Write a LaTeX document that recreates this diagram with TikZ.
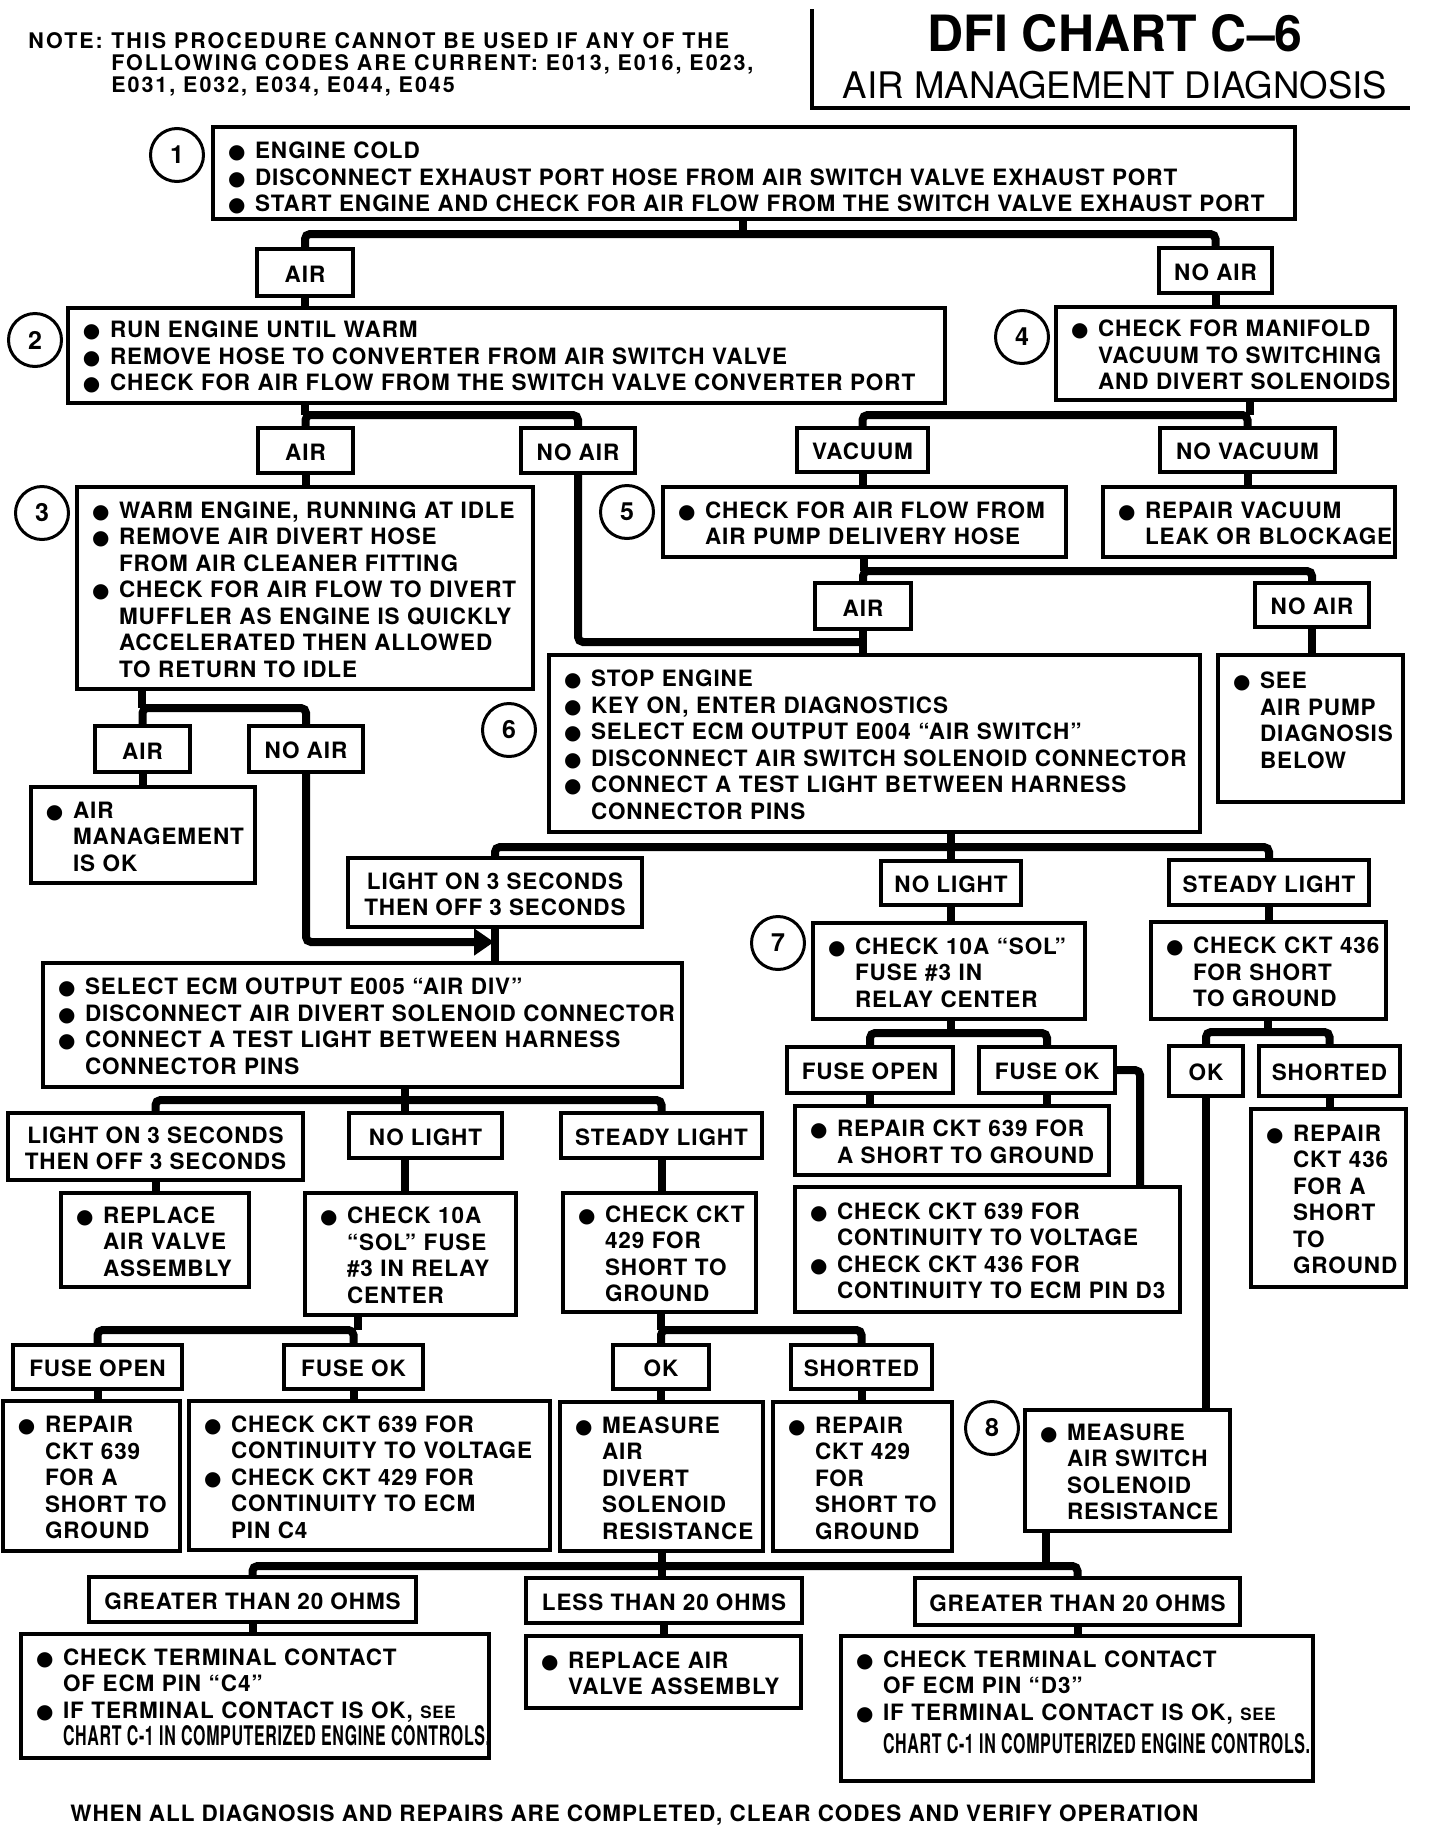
\documentclass[tikz,border=0pt]{standalone}
\usepackage{fontspec}
\usepackage{graphicx}
\setmainfont{TeX Gyre Heros}
\newfontfamily\espaciada{TeX Gyre Heros}[LetterSpace=4]
\newfontfamily\notafont{TeX Gyre Heros}[LetterSpace=9]
\newfontfamily\simbolos{DejaVu Sans}
\usetikzlibrary{arrows.meta}

\newcommand{\cuerpo}{\espaciada\bfseries\fontsize{11.25}{13.25}\selectfont}
\newcommand{\bala}{{\simbolos\fontsize{10}{10}\selectfont ●}}
\newcommand{\pto}[1]{\mbox{\makebox[13.5pt][l]{\bala}#1}}
\newcommand{\sig}[1]{\mbox{\hspace{13.5pt}#1}}
\newcommand{\cond}[1]{\scalebox{0.71}[1.2]{#1}}
\newcommand{\chico}[1]{{\fontsize{8.5}{8.5}\selectfont #1}}

\tikzset{
  caja/.style={draw, line width=1.7pt, inner xsep=7.5pt, inner ysep=1pt, align=left, font=\cuerpo},
  resp/.style={draw, line width=1.7pt, inner sep=1pt, align=center, font=\cuerpo},
  circulo/.style={draw, circle, line width=1.5pt, minimum size=26.5pt, inner sep=0pt,
    font=\bfseries\fontsize{12.5}{12.5}\selectfont},
  conn/.style={line width=4pt, rounded corners=2.5pt},
}

% caja dada por sus esquinas (px de la hoja)
\newcommand{\caja}[6]{%
  \pgfmathsetmacro{\cjw}{(#4-#2)/2}%
  \pgfmathsetmacro{\cjh}{(#5-#3)/2}%
  \pgfmathsetmacro{\cjt}{(#4-#2)/2-15}%
  \node[caja, minimum width=\cjw pt, minimum height=\cjh pt, text width=\cjt pt]
    (#1) at ({(#2+#4)/2},{(#3+#5)/2}) {\rule{0pt}{9.8pt}#6};}
% respuesta (AIR, NO AIR, ...)
\newcommand{\etiq}[6]{%
  \pgfmathsetmacro{\cjw}{(#4-#2)/2}%
  \pgfmathsetmacro{\cjh}{(#5-#3)/2}%
  \node[resp, minimum width=\cjw pt, minimum height=\cjh pt]
    (#1) at ({(#2+#4)/2},{(#3+#5)/2}) {\rule{0pt}{10pt}#6};}

\begin{document}
\begin{tikzpicture}[x=0.5pt, y=-0.5pt]
  \path[use as bounding box, fill=white] (0,0) rectangle (1440,1826);

  % Encabezado
  \node[anchor=base west, inner sep=0pt, align=left,
    font=\notafont\bfseries\fontsize{10.75}{10.4}\selectfont] (nota) at (28,48)
    {\makebox[41.5pt][l]{NOTE:}\begin{tabular}[t]{@{}l@{}}THIS PROCEDURE CANNOT BE USED IF ANY OF THE\\
     FOLLOWING CODES ARE CURRENT: E013, E016, E023,\\ E031, E032, E034, E044, E045\end{tabular}};
  \node[font=\bfseries\fontsize{25}{25}\selectfont] (titulo) at (1115,33) {DFI CHART C–6};
  \node[font=\fontsize{18.3}{18.3}\selectfont] (subtitulo) at (1115,85) {AIR MANAGEMENT DIAGNOSIS};
  \draw[line width=1.6pt] (812,9) -- (812,108) -- (1410,108);

  % Pasos 1 y 2
  \caja{p1}{213}{127}{1295}{219}{\rule{0pt}{13.5pt}\pto{ENGINE COLD}\\
    \pto{DISCONNECT EXHAUST PORT HOSE FROM AIR SWITCH VALVE EXHAUST PORT}\\
    \pto{START ENGINE AND CHECK FOR AIR FLOW FROM THE SWITCH VALVE EXHAUST PORT}}
  \node[circulo] (c1) at (177,155) {1};
  \etiq{r1a}{257}{249}{353}{296}{AIR}
  \etiq{r1b}{1159}{248}{1272}{293}{NO AIR}
  \caja{p2}{68}{308}{945}{403}{\pto{RUN ENGINE UNTIL WARM}\\
    \pto{REMOVE HOSE TO CONVERTER FROM AIR SWITCH VALVE}\\
    \pto{CHECK FOR AIR FLOW FROM THE SWITCH VALVE CONVERTER PORT}}
  \node[circulo] (c2) at (35,340) {2};
  \caja{p4}{1056}{307}{1395}{400}{\pto{CHECK FOR MANIFOLD}\\
    \sig{VACUUM TO SWITCHING}\\ \sig{AND DIVERT SOLENOIDS}}
  \node[circulo] (c4) at (1022,337) {4};
  \etiq{r2a}{258}{428}{353}{473}{AIR}
  \etiq{r2b}{521}{428}{635}{473}{NO AIR}
  \etiq{r4a}{797}{428}{928}{472}{VACUUM}
  \etiq{r4b}{1160}{428}{1335}{472}{NO VACUUM}

  % Pasos 3, 4 y 5
  \caja{p3}{77}{487}{533}{689}{\pto{WARM ENGINE, RUNNING AT IDLE}\\
    \pto{REMOVE AIR DIVERT HOSE}\\ \sig{FROM AIR CLEANER FITTING}\\
    \pto{CHECK FOR AIR FLOW TO DIVERT}\\ \sig{MUFFLER AS ENGINE IS QUICKLY}\\
    \sig{ACCELERATED THEN ALLOWED}\\ \sig{TO RETURN TO IDLE}}
  \node[circulo] (c3) at (42,513) {3};
  \caja{p5}{663}{487}{1066}{557}{\pto{CHECK FOR AIR FLOW FROM}\\ \sig{AIR PUMP DELIVERY HOSE}}
  \node[circulo] (c5) at (627,512) {5};
  \caja{vac}{1103}{487}{1395}{557}{\pto{REPAIR VACUUM}\\ \sig{LEAK OR BLOCKAGE}}
  \etiq{r5a}{815}{583}{911}{629}{AIR}
  \etiq{r5b}{1255}{583}{1369}{627}{NO AIR}
  \etiq{r3a}{95}{726}{190}{772}{AIR}
  \etiq{r3b}{249}{726}{363}{772}{NO AIR}
  \caja{ok3}{31}{787}{255}{883}{\pto{AIR}\\ \sig{MANAGEMENT}\\ \sig{IS OK}}

  % Paso 6
  \caja{p6}{549}{655}{1200}{832}{\pto{STOP ENGINE}\\ \pto{KEY ON, ENTER DIAGNOSTICS}\\
    \pto{SELECT ECM OUTPUT E004 “AIR SWITCH”}\\ \pto{DISCONNECT AIR SWITCH SOLENOID CONNECTOR}\\
    \pto{CONNECT A TEST LIGHT BETWEEN HARNESS}\\ \sig{CONNECTOR PINS}}
  \node[circulo] (c6) at (509,730) {6};
  \caja{bomba}{1218}{655}{1403}{802}{\pto{SEE}\\ \sig{AIR PUMP}\\ \sig{DIAGNOSIS}\\
    \sig{BELOW}\rule[-10pt]{0pt}{10pt}}
  \etiq{r6a}{348}{858}{642}{927}{LIGHT ON 3 SECONDS\\THEN OFF 3 SECONDS}
  \etiq{r6b}{881}{861}{1021}{905}{NO LIGHT}
  \etiq{r6c}{1169}{860}{1369}{905}{STEADY LIGHT}

  % Paso 7 y CKT 436
  \caja{p7}{813}{923}{1085}{1019}{\pto{CHECK 10A “SOL”}\\ \sig{FUSE \#3 IN}\\ \sig{RELAY CENTER}}
  \node[circulo] (c7) at (778,943) {7};
  \caja{ckt436}{1151}{922}{1386}{1019}{\pto{CHECK CKT 436}\\ \sig{FOR SHORT}\\ \sig{TO GROUND}}
  \etiq{r7a}{787}{1047}{953}{1093}{FUSE OPEN}
  \etiq{r7b}{979}{1047}{1115}{1093}{FUSE OK}
  \etiq{r8a}{1169}{1046}{1243}{1096}{OK}
  \etiq{r8b}{1259}{1046}{1400}{1096}{SHORTED}
  \caja{rep639}{795}{1106}{1109}{1175}{\pto{REPAIR CKT 639 FOR}\\ \sig{A SHORT TO GROUND}}
  \caja{cont}{795}{1187}{1180}{1312}{\pto{CHECK CKT 639 FOR}\\ \sig{CONTINUITY TO VOLTAGE}\\
    \pto{CHECK CKT 436 FOR}\\ \sig{CONTINUITY TO ECM PIN D3}}
  \caja{rep436}{1251}{1109}{1406}{1287}{\pto{REPAIR}\\ \sig{CKT 436}\\ \sig{FOR A}\\
    \sig{SHORT}\\ \sig{TO}\\ \sig{GROUND}}

  % Salida E005
  \caja{sel}{43}{963}{682}{1087}{\pto{SELECT ECM OUTPUT E005 “AIR DIV”}\\
    \pto{DISCONNECT AIR DIVERT SOLENOID CONNECTOR}\\
    \pto{CONNECT A TEST LIGHT BETWEEN HARNESS}\\ \sig{CONNECTOR PINS}}
  \etiq{rsa}{8}{1113}{303}{1180}{LIGHT ON 3 SECONDS\\THEN OFF 3 SECONDS}
  \etiq{rsb}{349}{1113}{502}{1158}{NO LIGHT}
  \etiq{rsc}{561}{1113}{762}{1158}{STEADY LIGHT}
  \caja{valv}{61}{1193}{249}{1287}{\pto{REPLACE}\\ \sig{AIR VALVE}\\ \sig{ASSEMBLY}}
  \caja{fus}{305}{1193}{516}{1315}{\pto{CHECK 10A}\\ \sig{“SOL” FUSE}\\ \sig{\#3 IN RELAY}\\ \sig{CENTER}}
  \caja{ckt429}{563}{1193}{756}{1312}{\pto{CHECK CKT}\\ \sig{429 FOR}\\ \sig{SHORT TO}\\ \sig{GROUND}}
  \etiq{rfa}{13}{1345}{182}{1389}{FUSE OPEN}
  \etiq{rfb}{284}{1345}{423}{1389}{FUSE OK}
  \etiq{rga}{613}{1345}{709}{1389}{OK}
  \etiq{rgb}{791}{1345}{932}{1389}{SHORTED}
  \caja{rep639b}{3}{1401}{180}{1551}{\pto{REPAIR}\\ \sig{CKT 639}\\ \sig{FOR A}\\ \sig{SHORT TO}\\ \sig{GROUND}}
  \caja{cont2}{189}{1401}{550}{1550}{\pto{CHECK CKT 639 FOR}\\ \sig{CONTINUITY TO VOLTAGE}\\
    \pto{CHECK CKT 429 FOR}\\ \sig{CONTINUITY TO ECM}\\ \sig{PIN C4}}
  \caja{medir}{560}{1402}{763}{1551}{\pto{MEASURE}\\ \sig{AIR}\\ \sig{DIVERT}\\ \sig{SOLENOID}\\ \sig{RESISTANCE}}
  \caja{rep429}{773}{1402}{952}{1551}{\pto{REPAIR}\\ \sig{CKT 429}\\ \sig{FOR}\\ \sig{SHORT TO}\\ \sig{GROUND}}

  % Paso 8 y resistencias
  \caja{p8}{1025}{1410}{1230}{1531}{\pto{MEASURE}\\ \sig{AIR SWITCH}\\ \sig{SOLENOID}\\ \sig{RESISTANCE}}
  \node[circulo] (c8) at (992,1428) {8};
  \etiq{rha}{89}{1577}{416}{1622}{GREATER THAN 20 OHMS}
  \etiq{rhb}{526}{1578}{802}{1623}{LESS THAN 20 OHMS}
  \etiq{rhc}{915}{1578}{1240}{1625}{GREATER THAN 20 OHMS}
  \caja{term1}{21}{1634}{489}{1758}{\pto{CHECK TERMINAL CONTACT}\\ \sig{OF ECM PIN “C4”}\\
    \pto{IF TERMINAL CONTACT IS OK, \chico{SEE}}\\[0.5pt]
    \sig{\cond{CHART C-1 IN COMPUTERIZED ENGINE CONTROLS.}}}
  \caja{valv2}{526}{1636}{801}{1708}{\pto{REPLACE AIR}\\ \sig{VALVE ASSEMBLY}}
  \caja{term2}{841}{1636}{1313}{1781}{\pto{CHECK TERMINAL CONTACT}\\ \sig{OF ECM PIN “D3”}\\
    \pto{IF TERMINAL CONTACT IS OK, \chico{SEE}}\\[3.5pt]
    \sig{\cond{CHART C-1 IN COMPUTERIZED ENGINE CONTROLS.}}\rule[-8pt]{0pt}{8pt}}

  \node[anchor=base west, inner sep=0pt, font=\espaciada\bfseries\fontsize{11.25}{13}\selectfont] (pie) at (70,1821)
    {WHEN ALL DIAGNOSIS AND REPAIRS ARE COMPLETED, CLEAR CODES AND VERIFY OPERATION};

  % Puntos de union de las lineas
  \coordinate (b1) at (743,234);
  \coordinate (b2) at (305,415);
  \coordinate (b4) at (1250,415);
  \coordinate (b5) at (864,571);
  \coordinate (b5n) at (864,642);
  \coordinate (b3) at (142,708);
  \coordinate (flecha) at (494,942);
  \coordinate (b6) at (951,847);
  \coordinate (b7) at (951,1033);
  \coordinate (codo) at (1140,1070);
  \coordinate (b8) at (1268,1032);
  \coordinate (b9) at (405,1100);
  \coordinate (b10) at (358,1330);
  \coordinate (b11) at (661,1330);
  \coordinate (b12) at (661,1566);
  \coordinate (b13) at (1046,1566);

  % Lineas
  \draw[conn] (p1.south -| b1) -- (b1);
  \draw[conn] (r1a.north) -- (r1a.north |- b1) -| (r1b.north);
  \draw[conn] (r1a.south) -- (r1a.south |- p2.north);
  \draw[conn] (r1b.south) -- (r1b.south |- p4.north);

  \draw[conn] (p2.south -| b2) -- (b2);
  \draw[conn] (r2a.north) -- (r2a.north |- b2) -| (r2b.north);
  \draw[conn] (p4.south -| b4) -- (b4);
  \draw[conn] (r4a.north) -- (r4a.north |- b4) -| (r4b.north);
  \draw[conn] (r2a.south) -- (r2a.south |- p3.north);
  \draw[conn] (r2b.south) |- (b5n);
  \draw[conn] (r4a.south) -- (r4a.south |- p5.north);
  \draw[conn] (r4b.south) -- (r4b.south |- vac.north);

  \draw[conn] (p5.south -| b5) -- (b5);
  \draw[conn] (r5a.north) -- (r5a.north |- b5) -| (r5b.north);
  \draw[conn] (r5a.south) -- (r5a.south |- p6.north);
  \draw[conn] (r5b.south) -- (r5b.south |- bomba.north);

  \draw[conn] (p3.south -| b3) -- (b3);
  \draw[conn] (r3a.north) -- (r3a.north |- b3) -| (r3b.north);
  \draw[conn] (r3a.south) -- (r3a.south |- ok3.north);
  \draw[conn, -{Triangle[length=10pt,width=13pt]}] (r3b.south) |- (flecha);

  \draw[conn] (r6a.north) -- (r6a.north |- b6) -| (r6c.north);
  \draw[conn] (p6.south -| b6) -- (b6 |- r6b.north);
  \draw[conn] (r6a.south) -- (r6a.south |- sel.north);
  \draw[conn] (r6b.south -| b6) -- (b6 |- p7.north);
  \draw[conn] (r6c.south) -- (r6c.south |- ckt436.north);

  \draw[conn] (p7.south -| b7) -- (b7);
  \draw[conn] (r7a.north) -- (r7a.north |- b7) -| (r7b.north);
  \draw[conn] (r7a.south) -- (r7a.south |- rep639.north);
  \draw[conn] (r7b.south) -- (r7b.south |- rep639.north);
  \draw[conn] (r7b.east) -- (codo) -- (codo |- cont.north);

  \draw[conn] (ckt436.south -| b8) -- (b8);
  \draw[conn] (r8a.north) -- (r8a.north |- b8) -| (r8b.north);
  \draw[conn] (r8a.south) -- (r8a.south |- p8.north);
  \draw[conn] (r8b.south) -- (r8b.south |- rep436.north);

  \draw[conn] (sel.south -| b9) -- (b9 |- rsb.north);
  \draw[conn] (rsa.north) -- (rsa.north |- b9) -| (rsc.north);
  \draw[conn] (rsa.south) -- (rsa.south |- valv.north);
  \draw[conn] (rsb.south -| b9) -- (b9 |- fus.north);
  \draw[conn] (rsc.south) -- (rsc.south |- ckt429.north);

  \draw[conn] (fus.south -| b10) -- (b10);
  \draw[conn] (rfa.north) -- (rfa.north |- b10) -| (rfb.north);
  \draw[conn] (ckt429.south -| b11) -- (b11);
  \draw[conn] (rga.north) -- (rga.north |- b11) -| (rgb.north);
  \draw[conn] (rfa.south) -- (rfa.south |- rep639b.north);
  \draw[conn] (rfb.south) -- (rfb.south |- cont2.north);
  \draw[conn] (rga.south) -- (rga.south |- medir.north);
  \draw[conn] (rgb.south) -- (rgb.south |- rep429.north);

  \draw[conn] (medir.south) -- (medir.south |- rhb.north);
  \draw[conn] (p8.south -| b13) -- (b13);
  \draw[conn] (rha.north) -- (rha.north |- b12) -| (rhc.north);
  \draw[conn] (rha.south) -- (rha.south |- term1.north);
  \draw[conn] (rhb.south) -- (rhb.south |- valv2.north);
  \draw[conn] (rhc.south) -- (rhc.south |- term2.north);
\end{tikzpicture}
\end{document}
